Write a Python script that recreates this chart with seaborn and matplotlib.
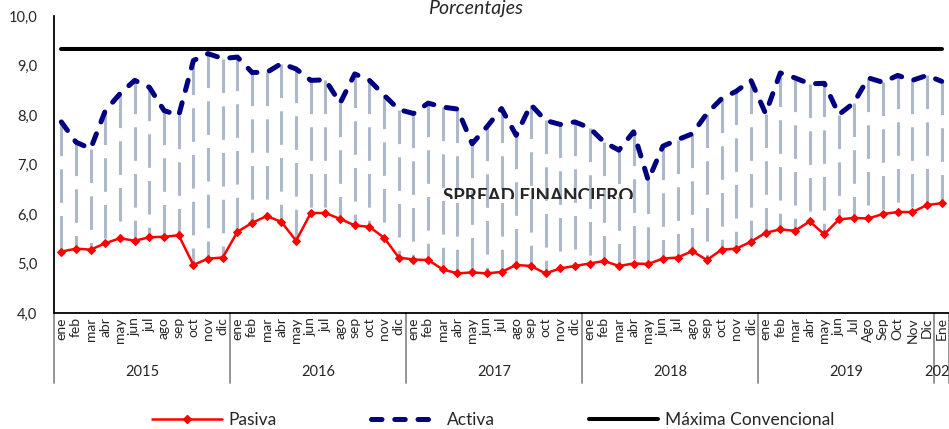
import numpy as np
import pandas as pd
import matplotlib
matplotlib.use("Agg")
import matplotlib.pyplot as plt
from matplotlib.lines import Line2D
from matplotlib.transforms import Bbox, TransformedBbox
import seaborn as sns

# --- data ---
years = ["2015", "2016", "2017", "2018", "2019", "2020"]
months = (["ene", "feb", "mar", "abr", "may", "jun", "jul", "ago", "sep", "oct", "nov", "dic"] * 4
          + ["ene", "feb", "mar", "abr", "may", "jun", "Jul", "Ago", "Sep", "Oct", "Nov", "Dic"]
          + ["Ene"])
year_sizes = [12, 12, 12, 12, 12, 1]

pasiva = [
    5.24, 5.30, 5.28, 5.41, 5.51, 5.46, 5.53, 5.54, 5.57, 4.97, 5.10, 5.12,
    5.64, 5.82, 5.96, 5.84, 5.46, 6.02, 6.02, 5.90, 5.77, 5.74, 5.52, 5.12,
    5.08, 5.07, 4.88, 4.80, 4.82, 4.80, 4.83, 4.97, 4.95, 4.80, 4.90, 4.95,
    5.00, 5.05, 4.95, 5.00, 4.99, 5.10, 5.12, 5.25, 5.07, 5.28, 5.30, 5.44,
    5.62, 5.69, 5.66, 5.85, 5.59, 5.89, 5.92, 5.91, 6.00, 6.04, 6.04, 6.18,
    6.22,
]
activa = [
    7.86, 7.45, 7.32, 8.09, 8.43, 8.70, 8.56, 8.09, 7.99, 9.10, 9.24, 9.14,
    9.17, 8.86, 8.86, 9.04, 8.93, 8.70, 8.71, 8.24, 8.83, 8.70, 8.40, 8.11,
    8.03, 8.24, 8.16, 8.12, 7.42, 7.76, 8.13, 7.59, 8.21, 7.89, 7.81, 7.86,
    7.74, 7.45, 7.29, 7.66, 6.68, 7.37, 7.50, 7.62, 8.03, 8.33, 8.48, 8.70,
    8.03, 8.85, 8.75, 8.63, 8.64, 8.01, 8.24, 8.75, 8.66, 8.80, 8.70, 8.80,
    8.68,
]
maxima_value = 9.33

df = pd.DataFrame({"pos": np.arange(len(months)), "mes": months,
                   "Pasiva": pasiva, "Activa": activa})
df["Maxima"] = maxima_value

sns.set_style("white")
plt.rcParams["font.family"] = ["Lato", "DejaVu Sans"]

W, H = 949, 429
fig = plt.figure(figsize=(W / 100, H / 100), dpi=100)
ax = fig.add_axes([54 / W, 1 - 313 / H, 895 / W, 297 / H])

# spread (hi-lo lines), drawn from Activa down to Pasiva
ax.vlines(df["pos"], df["Activa"], df["Pasiva"], colors="#adb9ca",
          linewidth=2.2, linestyles=[(0, (11, 4.3))], zorder=1)

sns.lineplot(data=df, x="pos", y="Maxima", ax=ax, color="black",
             linewidth=2.9, solid_capstyle="round", zorder=2)
sns.lineplot(data=df, x="pos", y="Activa", ax=ax, color="#000080",
             linewidth=3.6, linestyle=(0, (2.1, 2.55)),
             dash_capstyle="round", zorder=3)
sns.lineplot(data=df, x="pos", y="Pasiva", ax=ax, color="#ff0000",
             linewidth=1.8, marker="D", markersize=4.5,
             markeredgecolor="#ff0000", zorder=4)

ax.set_xlim(-0.5, len(months) - 0.5)
ax.set_ylim(4, 10)
ax.set_yticks(np.arange(4, 11, 1))
ax.set_yticklabels([f"{v:.1f}".replace(".", ",") for v in np.arange(4, 11, 1)],
                   fontsize=10.5)
ax.set_xticks(df["pos"])
ax.set_xticklabels(months, rotation=90, fontsize=10)
ax.tick_params(axis="both", length=0)
ax.tick_params(axis="y", pad=12)
ax.tick_params(axis="x", pad=3)
ax.set_xlabel("")
ax.set_ylabel("")
for s in ["top", "right"]:
    ax.spines[s].set_visible(False)
for s in ["left", "bottom"]:
    ax.spines[s].set_color("black")
    ax.spines[s].set_linewidth(1.3)

# year groups under the month labels
trans = ax.get_xaxis_transform()
start = -0.5
bounds = [start]
for yr, n in zip(years, year_sizes):
    ax.text(start + n / 2, -0.199, yr, transform=trans, ha="center",
            va="center", fontsize=10.5)
    start += n
    bounds.append(start)
for b in bounds:
    ax.plot([b, b], [0, -0.236], transform=trans, color="#8c8c8c",
            linewidth=1.3, clip_on=False)

# spread label, cut at its lower part as in the source
t = ax.text(538 / W, 1 - 188 / H, "SPREAD FINANCIERO", transform=fig.transFigure,
            ha="center", va="top", fontsize=13.5, fontweight="bold", zorder=5)
t.set_clip_box(TransformedBbox(Bbox([[0, 1 - 199 / H], [1, 1]]), fig.transFigure))
t.set_clip_on(True)

fig.text(475 / W, 1 - 14 / H, "Porcentajes", ha="center", va="baseline",
         fontsize=14, style="italic")

handles = [
    Line2D([], [], color="#ff0000", linewidth=1.8, marker="D", markersize=4.5,
           markevery=[1]),
    Line2D([], [], color="#000080", linewidth=3.6, linestyle=(0, (2.1, 2.55)),
           dash_capstyle="round"),
    Line2D([], [], color="black", linewidth=2.9, solid_capstyle="round"),
]
fig.legend(handles, ["Pasiva", "Activa", "Máxima Convencional"],
           loc="center", bbox_to_anchor=(0.52, 1 - 420 / H), ncol=3,
           frameon=False, fontsize=12.5, handlelength=4.0,
           columnspacing=5.4, handletextpad=0.4)

fig.savefig("out.png", dpi=100)
